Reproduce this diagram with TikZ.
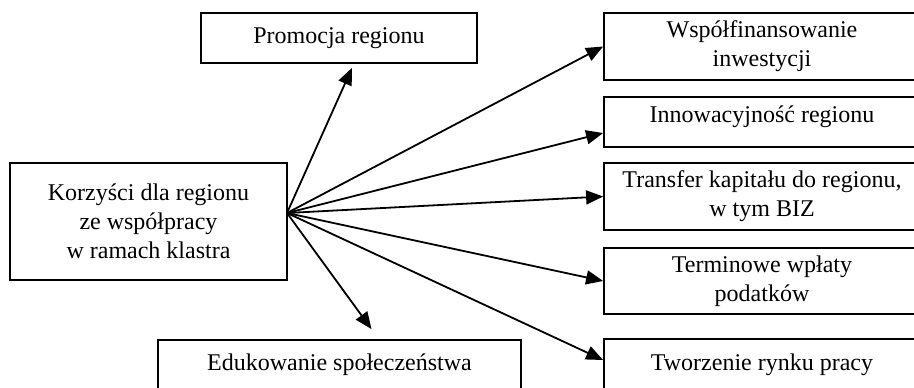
\documentclass[tikz,border=0pt]{standalone}
\usepackage{fontspec}
\setmainfont{Liberation Serif}
\usetikzlibrary{arrows.meta}
\tikzstyle{box}=[rectangle,draw,line width=0.9pt,inner sep=0pt,align=center,font=\fontsize{12pt}{14.5pt}\selectfont]
\tikzstyle{edge} = [draw,line width=0.9pt,-{Triangle[length=8.5pt,width=7pt]}]
\begin{document}
\begin{tikzpicture}[x=0.5pt,y=-0.5pt]
   \useasboundingbox (0,0) rectangle (914,387);

   \foreach \pos/\name/\w/\h/\label in {{(148.5,221.5)/korz/138.5pt/58.5pt/{Korzyści dla regionu\\ze współpracy\\w ramach klastra}},
        {(339,38)/prom/138pt/25pt/{Promocja regionu}},
        {(762,46.5)/wspol/158pt/33.5pt/{Współfinansowanie\\inwestycji}},
        {(762,196.5)/trans/158pt/33.5pt/{Transfer kapitału do regionu,\\w tym BIZ}},
        {(762,281)/termin/158pt/33pt/{Terminowe wpłaty\\podatków}},
        {(762,365)/tworz/158pt/26pt/{Tworzenie rynku pracy}},
        {(339.5,365)/eduk/181.5pt/25pt/{Edukowanie społeczeństwa}}}
        \node[box,minimum width=\w,minimum height=\h] (\name) at \pos {\label};
   \node[box,minimum width=158pt,text height=12.5pt,text depth=12.5pt] (innow) at (762,122) {Innowacyjność regionu};

   \coordinate (hub) at (287,213);

    % arrows from the main box
  \foreach \dest/\dx/\dy in {prom.south/6.5pt/-2pt, wspol.west/0pt/0pt, innow.west/0pt/-5.5pt, trans.west/0pt/0pt, termin.west/0pt/0pt, tworz.west/0pt/2.5pt, eduk.north/16pt/5pt}
          \path[edge] (hub) -- ([xshift=\dx,yshift=\dy]\dest);

\end{tikzpicture}
\end{document}
